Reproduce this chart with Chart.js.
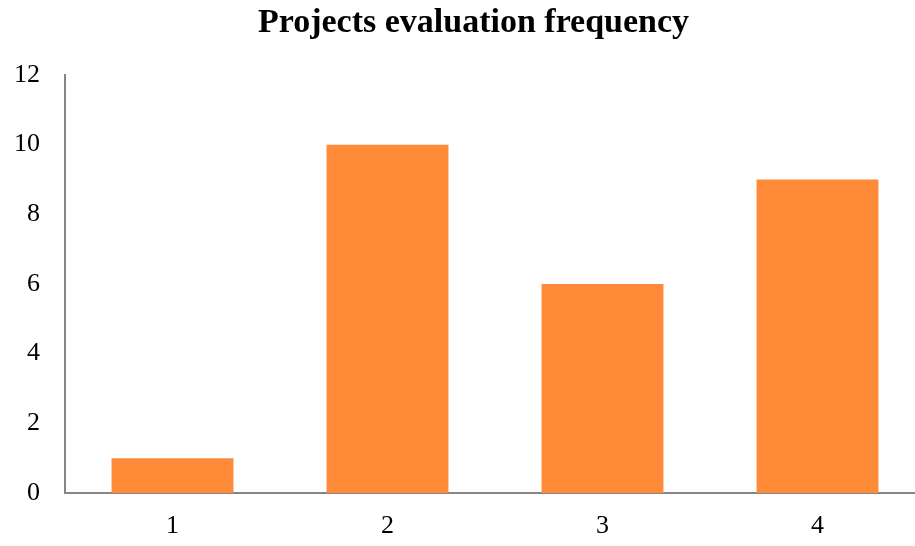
<!DOCTYPE html>
<html>
<head>
<meta charset="utf-8">
<script src="https://cdn.jsdelivr.net/npm/chart.js@4"></script>
<style>
  html, body { margin: 0; padding: 0; background: #fff; overflow: hidden; }
  #wrap { position: absolute; left: 0; top: 0; width: 960px; height: 546px; }
</style>
</head>
<body>
<div id="wrap"><canvas id="c" width="960" height="546"></canvas></div>
<script>
const categories = ["1", "2", "3", "4"];
const frequency = [1, 10, 6, 9];
const yTicks = [0, 2, 4, 6, 8, 10, 12];
const titleText = "Projects evaluation frequency";

const serif = "'Liberation Serif', 'DejaVu Serif', serif";

new Chart(document.getElementById('c'), {
  type: 'bar',
  data: {
    labels: categories,
    datasets: [{
      data: frequency,
      yAxisID: 'y',
      backgroundColor: '#FF8A38',
      borderWidth: 0,
      barPercentage: 0.567,
      categoryPercentage: 1.0
    }]
  },
  options: {
    responsive: false,
    animation: false,
    devicePixelRatio: 1,
    layout: { padding: { left: 0, right: 13, top: 0, bottom: 0 } },
    plugins: {
      legend: { display: false },
      tooltip: { enabled: false },
      title: {
        display: true,
        text: titleText,
        color: '#000',
        font: { family: serif, size: 34, weight: 'bold', lineHeight: 1.2 },
        padding: { top: 2.6, bottom: 31.6 }
      }
    },
    scales: {
      x: {
        grid: { display: false, drawTicks: false },
        border: { display: true, color: '#868686', width: 2 },
        ticks: { color: '#000', font: { family: serif, size: 26 }, padding: 18 },
        afterFit: (s) => { s.height = 53; }
      },
      y: {
        min: 0,
        max: 12,
        afterBuildTicks: (s) => { s.ticks = yTicks.map(v => ({ value: v })); },
        grid: { display: false, drawTicks: false },
        border: { display: true, color: '#868686', width: 2 },
        ticks: { color: '#000', font: { family: serif, size: 26 }, padding: 25 },
        afterFit: (s) => { s.width = 65; }
      },
      yRight: {
        position: 'right',
        min: 0,
        max: 12,
        grid: { display: false, drawTicks: false },
        border: { display: false },
        ticks: { display: false },
        afterFit: (s) => { s.width = 22; }
      }
    }
  }
});
</script>
</body>
</html>
